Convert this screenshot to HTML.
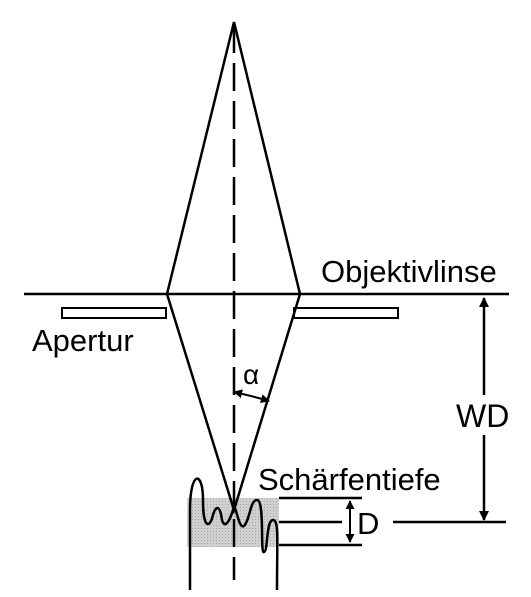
<!DOCTYPE html>
<html><head><meta charset="utf-8"><style>
body{margin:0;background:#fff}
svg{display:block}
text{font-family:"Liberation Sans",sans-serif;fill:#000}
</style></head><body>
<svg width="531" height="597" viewBox="0 0 531 597">
<defs>
<marker id="ah" viewBox="0 0 10 10" refX="9" refY="5" markerWidth="9" markerHeight="12" orient="auto-start-reverse" markerUnits="userSpaceOnUse"><path d="M0,0 L10,5 L0,10 z" fill="#000"/></marker>
<marker id="ah2" viewBox="0 0 10 10" refX="9" refY="5" markerWidth="10" markerHeight="14" orient="auto-start-reverse" markerUnits="userSpaceOnUse"><path d="M0,0 L10,5 L0,10 z" fill="#000"/></marker>
<pattern id="dots" width="3" height="3" patternUnits="userSpaceOnUse"><rect width="3" height="3" fill="#d0d0d0"/><rect width="1" height="1" fill="#a8a8a8"/></pattern>
</defs>
<rect x="187" y="498" width="92" height="49" fill="url(#dots)"/>
<g stroke="#000" stroke-width="2.5" fill="none">
<line x1="24" y1="294" x2="509" y2="294"/>
<polyline points="167,294 234,22 300,294"/>
<polyline points="167,294 234,510 300,294"/>
<line x1="234" y1="25" x2="234" y2="580" stroke-dasharray="28,10"/>
<rect x="62" y="308" width="104" height="10" stroke-width="2"/>
<rect x="294" y="308" width="104" height="10" stroke-width="2"/>
<line x1="484" y1="395" x2="484" y2="298" marker-end="url(#ah2)"/>
<line x1="484" y1="435" x2="484" y2="520" marker-end="url(#ah2)"/>
<line x1="393" y1="522" x2="506" y2="522"/>
<line x1="279" y1="498" x2="362" y2="498"/>
<line x1="279" y1="545" x2="362" y2="545"/>
<line x1="279" y1="522" x2="342" y2="522"/>
<line x1="350" y1="501" x2="350" y2="542" stroke-width="2" marker-start="url(#ah)" marker-end="url(#ah)"/>
<path d="M234,392 Q252,396 269,401" stroke-width="2" marker-start="url(#ah)" marker-end="url(#ah)"/>
<path d="M190,590 L190,510 C190,470 203,470 203,500 C203,530 210,528 213,515 C216,505 220,505 222,520 C225,530 230,520 233,510 C236,500 238,530 244,526 C250,520 250,500 257,500 C265,500 260,555 264,552 C268,552 266,520 273,520 C279,520 277,540 277,590"/>
</g>
<text x="321" y="282" font-size="31">Objektivlinse</text>
<text x="32" y="351" font-size="31">Apertur</text>
<text x="243" y="384" font-size="28">α</text>
<text x="456" y="427" font-size="32">WD</text>
<text x="258" y="490" font-size="31">Schärfentiefe</text>
<text x="357" y="534" font-size="31">D</text>
</svg>
</body></html>
